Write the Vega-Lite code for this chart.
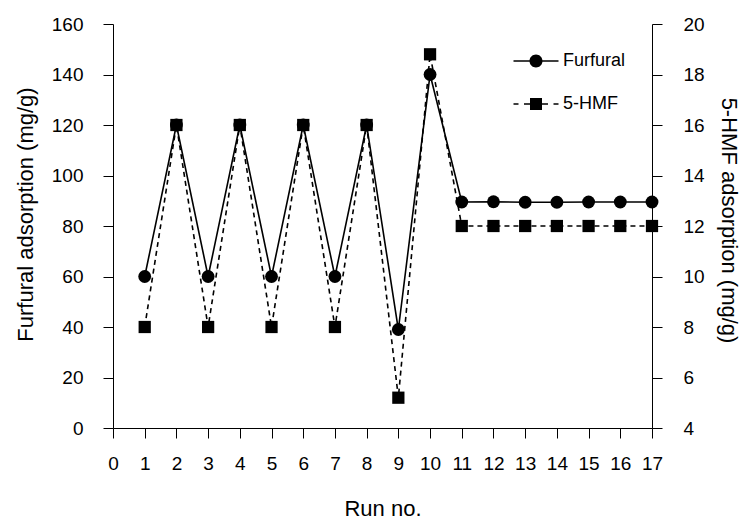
{
  "$schema": "https://vega.github.io/schema/vega-lite/v6.json",
  "autosize": "none",
  "width": 539,
  "height": 404,
  "padding": {"left": 113, "top": 24, "right": 90, "bottom": 97},
  "background": "white",
  "config": {
    "view": {"stroke": null},
    "font": "Liberation Sans",
    "axis": {
      "grid": false,
      "domainColor": "#000",
      "domainWidth": 1,
      "tickColor": "#000",
      "tickSize": 10,
      "labelFont": "Liberation Sans",
      "labelFontSize": 19,
      "labelColor": "#000",
      "titleFont": "Liberation Sans",
      "titleFontSize": 22,
      "titleFontWeight": "normal",
      "titleColor": "#000"
    },
    "legend": {
      "labelFont": "Liberation Sans",
      "labelFontSize": 18,
      "labelColor": "#000"
    }
  },
  "data": {
    "values": [
      {"run": 1, "series": "Furfural", "value": 60},
      {"run": 2, "series": "Furfural", "value": 120},
      {"run": 3, "series": "Furfural", "value": 60},
      {"run": 4, "series": "Furfural", "value": 120},
      {"run": 5, "series": "Furfural", "value": 60},
      {"run": 6, "series": "Furfural", "value": 120},
      {"run": 7, "series": "Furfural", "value": 60},
      {"run": 8, "series": "Furfural", "value": 120},
      {"run": 9, "series": "Furfural", "value": 39},
      {"run": 10, "series": "Furfural", "value": 140},
      {"run": 11, "series": "Furfural", "value": 89.5},
      {"run": 12, "series": "Furfural", "value": 89.6},
      {"run": 13, "series": "Furfural", "value": 89.4},
      {"run": 14, "series": "Furfural", "value": 89.4},
      {"run": 15, "series": "Furfural", "value": 89.5},
      {"run": 16, "series": "Furfural", "value": 89.5},
      {"run": 17, "series": "Furfural", "value": 89.5},
      {"run": 1, "series": "5-HMF", "value": 8},
      {"run": 2, "series": "5-HMF", "value": 16},
      {"run": 3, "series": "5-HMF", "value": 8},
      {"run": 4, "series": "5-HMF", "value": 16},
      {"run": 5, "series": "5-HMF", "value": 8},
      {"run": 6, "series": "5-HMF", "value": 16},
      {"run": 7, "series": "5-HMF", "value": 8},
      {"run": 8, "series": "5-HMF", "value": 16},
      {"run": 9, "series": "5-HMF", "value": 5.2},
      {"run": 10, "series": "5-HMF", "value": 18.8},
      {"run": 11, "series": "5-HMF", "value": 12},
      {"run": 12, "series": "5-HMF", "value": 12},
      {"run": 13, "series": "5-HMF", "value": 12},
      {"run": 14, "series": "5-HMF", "value": 12},
      {"run": 15, "series": "5-HMF", "value": 12},
      {"run": 16, "series": "5-HMF", "value": 12},
      {"run": 17, "series": "5-HMF", "value": 12}
    ]
  },
  "encoding": {
    "x": {
      "field": "run",
      "type": "quantitative",
      "scale": {"domain": [0, 17], "nice": false, "zero": false},
      "axis": {
        "title": "Run no.",
        "values": [0,1,2,3,4,5,6,7,8,9,10,11,12,13,14,15,16,17],
        "labelPadding": 16,
        "titlePadding": 25,
        "labelFlush": false,
        "labelOverlap": false
      }
    }
  },
  "layer": [
    {
      "transform": [{"filter": "datum.series === 'Furfural'"}],
      "encoding": {
        "y": {
          "field": "value",
          "type": "quantitative",
          "scale": {"domain": [0, 160], "nice": false},
          "axis": {
            "orient": "left",
            "title": "Furfural adsorption (mg/g)",
            "values": [0,20,40,60,80,100,120,140,160],
            "labelPadding": 20,
            "titlePadding": 14,
            "titleY": 190
          }
        }
      },
      "layer": [
        {"mark": {"type": "line", "color": "black", "strokeWidth": 1.6}},
        {"mark": {"type": "point", "shape": "circle", "filled": true, "color": "black", "opacity": 1, "size": 165}},
        {
          "transform": [{"filter": "datum.run < 0"}],
          "mark": {"type": "point", "filled": true, "color": "black", "opacity": 1, "size": 400},
          "encoding": {
            "shape": {
              "field": "series",
              "type": "nominal",
              "scale": {
                "domain": ["Furfural", "5-HMF"],
                "range": [
                  "M-2.25,-0.08H2.25V0.08H-2.25ZM-0.65,0A0.65,0.65,0,1,1,0.65,0A0.65,0.65,0,1,1,-0.65,0Z",
                  "M-2.25,-0.08H-1.75V0.08H-2.25ZM-1.2,-0.08H-0.6V0.08H-1.2ZM-0.6,-0.6H0.6V0.6H-0.6ZM0.6,-0.08H1.2V0.08H0.6ZM1.75,-0.08H2.25V0.08H1.75Z"
                ]
              },
              "legend": {
                "title": null,
                "orient": "none",
                "legendX": 413,
                "legendY": 27,
                "symbolSize": 400,
                "symbolOpacity": 1,
                "symbolFillColor": "black",
                "symbolStrokeWidth": 0,
                "labelOffset": 17,
                "rowPadding": 24,
                "padding": 0
              }
            }
          }
        }
      ]
    },
    {
      "transform": [{"filter": "datum.series === '5-HMF'"}],
      "encoding": {
        "y": {
          "field": "value",
          "type": "quantitative",
          "scale": {"domain": [4, 20], "nice": false, "zero": false},
          "axis": {
            "orient": "right",
            "title": "5-HMF adsorption (mg/g)",
            "values": [4,6,8,10,12,14,16,18,20],
            "labelPadding": 21,
            "titlePadding": 12,
            "titleY": 196
          }
        }
      },
      "layer": [
        {"mark": {"type": "line", "color": "black", "strokeWidth": 1.6, "strokeDash": [5, 4]}},
        {"mark": {"type": "point", "shape": "square", "filled": true, "color": "black", "opacity": 1, "size": 150}}
      ]
    }
  ],
  "resolve": {"scale": {"y": "independent"}}
}
